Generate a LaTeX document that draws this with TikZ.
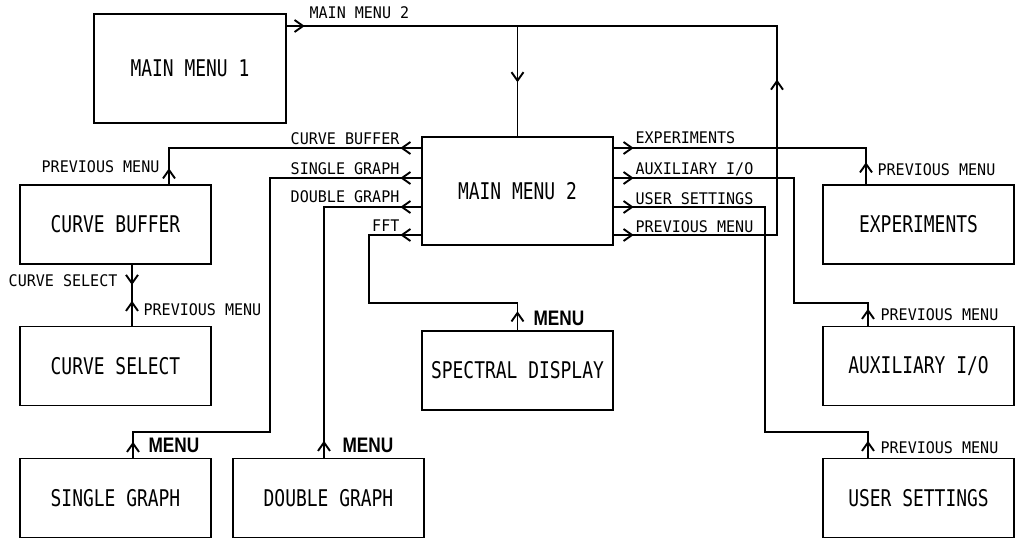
\documentclass[tikz,border=0pt]{standalone}
\usepackage{fontspec}
\usetikzlibrary{arrows.meta,decorations.markings}
\newfontfamily\labelfont[FakeStretch=0.94]{DejaVu Sans Mono}
\newfontfamily\boxfont[FakeStretch=0.78]{DejaVu Sans Mono}
\newfontfamily\menufont[FakeStretch=0.82]{Liberation Sans Bold}

\begin{document}
\begin{tikzpicture}[x=1pt,y=-1pt,line width=1.2pt,
  barb/.tip={Straight Barb[length=8.5pt,width=12pt,line width=1.9pt]},
  box/.style={draw,line width=1.4pt,minimum width=191pt,minimum height=79pt,inner sep=0pt,
    font=\boxfont\fontsize{23}{26}\selectfont},
  lbl/.style={inner sep=0pt,font=\labelfont\fontsize{16}{19}\selectfont},
  menulbl/.style={inner sep=0pt,anchor=base west,font=\menufont\fontsize{21}{24}\selectfont},
  % out and back: first tip along the path, second one against it
  link/.style 2 args={postaction={decorate},decoration={markings,
    mark=at position #1 with {\arrow{barb}},
    mark=at position #2 with {\arrowreversed{barb}}}},
  feed/.style 2 args={postaction={decorate},decoration={markings,
    mark=at position #1 with {\arrow{barb}},
    mark=at position #2 with {\arrow{barb}}}}]
  \useasboundingbox (0,0) rectangle (1021,538);

  % menus
  \node[box,minimum width=192pt,minimum height=109pt] (mm1) at (190,68.5) {MAIN MENU 1};
  \node[box,minimum height=108pt] (mm2) at (517.5,191) {MAIN MENU 2};
  \node[box] (cbuf) at (115.5,224.5) {CURVE BUFFER};
  \node[box] (csel) at (115.5,366) {CURVE SELECT};
  \node[box] (sgl) at (115.5,498) {SINGLE GRAPH};
  \node[box] (dbl) at (328.5,498) {DOUBLE GRAPH};
  \node[box] (spec) at (517.5,370.5) {SPECTRAL DISPLAY};
  \node[box] (expt) at (918.5,224.5) {EXPERIMENTS};
  \node[box] (aux) at (918.5,366) {AUXILIARY I/O};
  \node[box] (user) at (918.5,498) {USER SETTINGS};

  % bends of the wires
  \coordinate (t1) at (517.5,26); \coordinate (t2) at (777,26);
  \coordinate (pm) at (777,235);
  \coordinate (c1) at (169,148); \coordinate (k1) at (132,264);
  \coordinate (s1) at (270,178); \coordinate (s2) at (133,432);
  \coordinate (d1) at (324,207);
  \coordinate (f1) at (369,235); \coordinate (f2) at (517.5,303);
  \coordinate (e1) at (866,148);
  \coordinate (a1) at (794,178); \coordinate (a2) at (868,303);
  \coordinate (u1) at (765,207); \coordinate (u2) at (868,432);

  \draw[feed={18pt}{-54pt}] (mm1.east |- t1) -- (t1) -- (mm2.north);
  \draw[feed={20pt}{-313pt}] (mm2.east |- pm) -- (pm) -- (t2) -- (t1);
  \draw[link={21pt}{-16pt}] (mm2.west |- c1) -- (c1) -- (cbuf.north -| c1);
  \draw[link={21pt}{-16pt}] (mm2.west |- s1) -- (s1) |- (s2) -- (sgl.north -| s2);
  \draw[link={21pt}{-17pt}] (mm2.west |- d1) -- (d1) -- (dbl.north -| d1);
  \draw[link={21pt}{-19pt}] (mm2.west |- f1) -- (f1) |- (f2) -- (spec.north);
  \draw[link={20pt}{-22pt}] (mm2.east |- e1) -- (e1) -- (expt.north -| e1);
  \draw[link={20pt}{-17pt}] (mm2.east |- a1) -- (a1) |- (a2) -- (aux.north -| a2);
  \draw[link={20pt}{-17pt}] (mm2.east |- u1) -- (u1) |- (u2) -- (user.north -| u2);
  \draw[link={21pt}{-25pt}] (k1) -- (csel.north -| k1);

  % wire labels
  \node[lbl,anchor=base west] (lmain) at (309,19) {MAIN MENU 2};
  \node[lbl,anchor=base east] (lcbuf) at (400,144) {CURVE BUFFER};
  \node[lbl,anchor=base east] (lsgl) at (400,174) {SINGLE GRAPH};
  \node[lbl,anchor=base east] (ldbl) at (400,202) {DOUBLE GRAPH};
  \node[lbl,anchor=base east] (lfft) at (400,231) {FFT};
  \node[lbl,anchor=base west] (lexpt) at (635,143) {EXPERIMENTS};
  \node[lbl,anchor=base west] (laux) at (635,174) {AUXILIARY I/O};
  \node[lbl,anchor=base west] (luser) at (635,204) {USER SETTINGS};
  \node[lbl,anchor=base west] (lprev) at (635,232) {PREVIOUS MENU};
  \node[lbl,anchor=base east] (pcbuf) at (160,172) {PREVIOUS MENU};
  \node[lbl,anchor=base east] (lcsel) at (118,286) {CURVE SELECT};
  \node[lbl,anchor=base west] (pcsel) at (143,315) {PREVIOUS MENU};
  \node[lbl,anchor=base west] (pexpt) at (877,175) {PREVIOUS MENU};
  \node[lbl,anchor=base west] (paux) at (880,320) {PREVIOUS MENU};
  \node[lbl,anchor=base west] (puser) at (880,453) {PREVIOUS MENU};
  \node[menulbl] (msgl) at (148,452) {MENU};
  \node[menulbl] (mdbl) at (342,452) {MENU};
  \node[menulbl] (mspec) at (533,325) {MENU};
\end{tikzpicture}
\end{document}
